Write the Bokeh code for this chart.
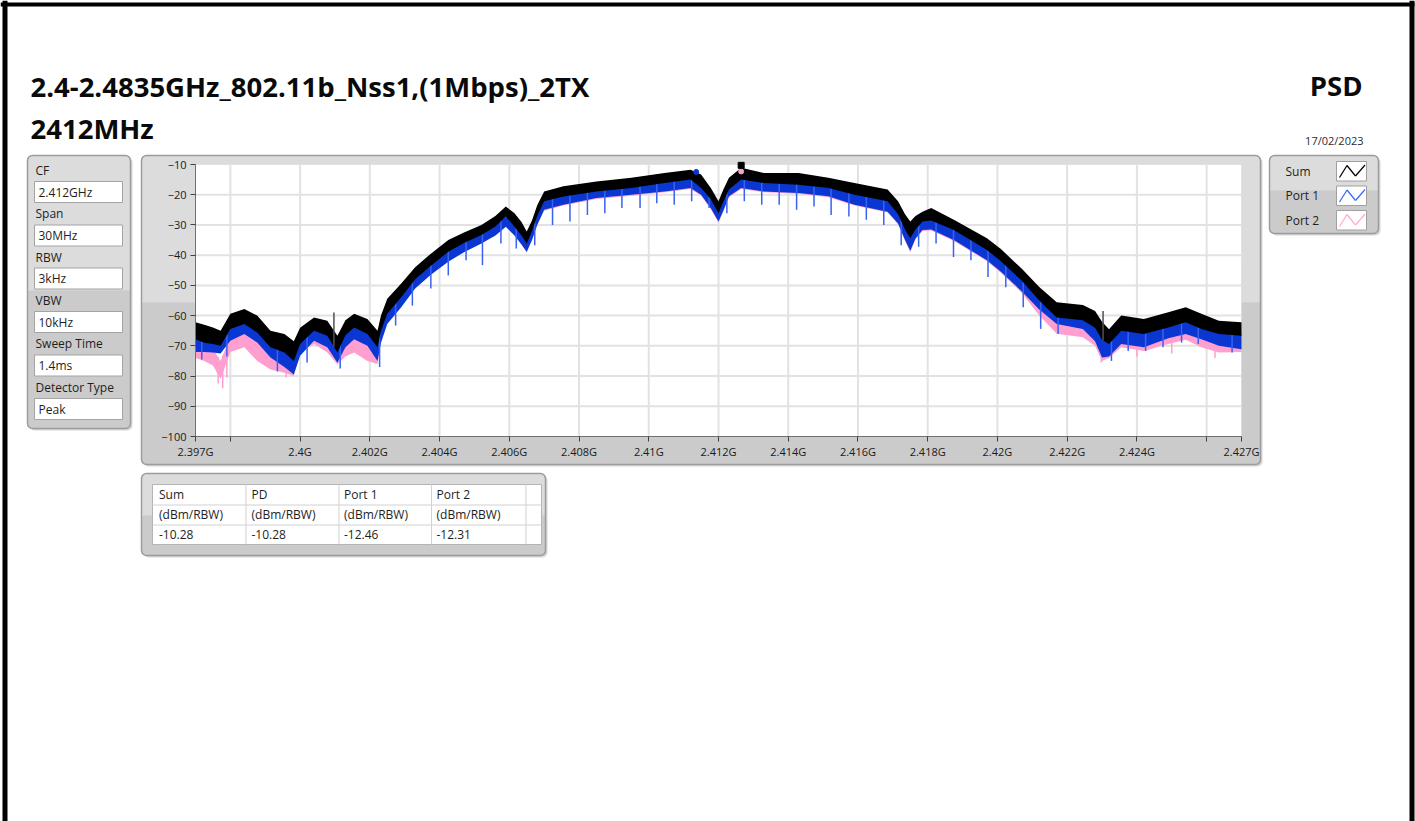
import numpy as np
from bokeh.plotting import figure
from bokeh.models import Range1d, FixedTicker, BoxAnnotation, Label, Arrow, LinearAxis
from bokeh.embed import file_html
from bokeh.resources import INLINE

# ---------------- data ----------------
freq_ghz = [2.39700, 2.39725, 2.39750, 2.39772, 2.39800, 2.39840, 2.39877, 2.39915, 2.39955, 2.39982,
            2.40000, 2.40040, 2.40078, 2.40107, 2.40130, 2.40155, 2.40193, 2.40222, 2.40232, 2.40250,
            2.40290, 2.40330, 2.40375, 2.40425, 2.40470, 2.40520, 2.40560, 2.40590, 2.40615, 2.40635,
            2.40650, 2.40665, 2.40680, 2.40700, 2.40755, 2.40850, 2.40950, 2.41045, 2.41120, 2.41150,
            2.41178, 2.41200, 2.41215, 2.41230, 2.41265, 2.41330, 2.41430, 2.41515, 2.41590, 2.41685,
            2.41715, 2.41735, 2.41750, 2.41765, 2.41785, 2.41810, 2.41875, 2.41970, 2.42010, 2.42070,
            2.42120, 2.42170, 2.42245, 2.42280, 2.42300, 2.42320, 2.42355, 2.42420, 2.42490, 2.42540,
            2.42585, 2.42635, 2.42700]
sum_top = [-62.2, -63.0, -63.9, -65.0, -59.4, -57.8, -60.0, -65.0, -66.1, -68.5,
           -64.0, -60.6, -61.7, -66.7, -61.5, -59.4, -61.1, -65.0, -60.0, -54.4,
           -49.4, -44.0, -39.5, -35.0, -32.5, -30.0, -27.0, -23.9, -26.1, -29.0,
           -32.2, -28.5, -23.5, -18.9, -17.2, -15.6, -14.4, -12.8, -11.7, -13.3,
           -17.8, -22.2, -18.0, -14.4, -11.1, -12.8, -12.8, -14.4, -16.1, -18.3,
           -22.2, -26.5, -28.9, -27.0, -25.6, -24.4, -28.3, -34.4, -38.0, -44.5,
           -50.5, -55.6, -56.5, -58.5, -62.0, -64.5, -60.0, -61.1, -58.9, -57.2,
           -59.4, -61.7, -62.2]
sum_bottom = [-67.8, -69.0, -69.4, -70.0, -64.4, -62.8, -65.6, -70.5, -72.2, -75.0,
              -69.4, -65.0, -66.7, -72.2, -66.5, -63.9, -66.1, -70.5, -65.0, -59.4,
              -53.9, -48.0, -43.5, -38.9, -36.0, -33.3, -30.5, -27.2, -30.6, -33.5,
              -36.1, -32.0, -27.0, -22.2, -20.6, -18.9, -17.8, -16.1, -15.0, -17.8,
              -21.5, -26.1, -22.0, -18.3, -15.0, -16.1, -16.7, -17.8, -20.0, -22.2,
              -26.5, -31.5, -34.4, -31.5, -28.9, -28.5, -31.7, -38.3, -42.0, -48.5,
              -55.0, -60.6, -61.5, -64.0, -68.0, -69.4, -65.0, -66.1, -63.9, -62.2,
              -64.4, -66.1, -66.7]
port1_top = [-66.7, -67.0, -68.0, -68.5, -63.9, -62.2, -65.0, -70.0, -71.7, -74.0,
             -68.3, -63.9, -66.1, -71.1, -66.0, -63.3, -65.6, -68.3, -64.0, -58.3,
             -53.3, -47.5, -43.0, -38.3, -35.5, -32.8, -30.0, -27.2, -29.5, -32.5,
             -35.0, -31.5, -26.5, -21.7, -20.0, -18.3, -17.2, -15.6, -14.5, -16.5,
             -20.5, -25.0, -21.0, -17.2, -14.4, -15.6, -16.1, -17.5, -19.4, -21.7,
             -25.5, -30.0, -33.0, -30.5, -28.3, -27.8, -31.1, -37.8, -41.5, -48.0,
             -54.0, -59.4, -60.6, -63.0, -67.2, -68.5, -63.9, -65.6, -63.0, -61.7,
             -63.9, -65.6, -66.2]
port1_bottom = [-72.0, -72.0, -72.2, -72.5, -68.3, -66.1, -68.9, -73.9, -77.0, -79.5,
                -73.3, -68.3, -70.5, -75.6, -70.5, -67.8, -70.0, -75.0, -69.0, -62.8,
                -57.2, -51.0, -46.5, -42.2, -39.0, -36.1, -33.5, -30.6, -33.5, -36.5,
                -38.9, -35.0, -30.0, -25.0, -23.3, -21.1, -20.0, -18.9, -17.8, -20.0,
                -24.5, -28.9, -25.0, -20.5, -17.8, -18.9, -19.4, -20.5, -23.3, -25.6,
                -29.5, -35.0, -38.5, -34.5, -31.7, -31.5, -35.0, -41.7, -45.5, -52.0,
                -58.0, -62.8, -64.4, -68.5, -73.9, -73.5, -69.4, -70.5, -67.5, -66.1,
                -67.8, -70.0, -71.1]
port2_top = [-70.0, -70.5, -71.0, -75.0, -66.7, -65.0, -68.3, -72.8, -73.9, -75.6,
             -67.2, -65.0, -67.8, -72.2, -68.0, -66.1, -69.4, -70.5, -63.0, -56.7,
             -52.5, -47.0, -42.5, -38.0, -35.0, -32.5, -30.0, -27.2, -29.5, -32.5,
             -35.0, -31.5, -26.5, -22.0, -20.3, -18.6, -17.5, -15.9, -14.8, -16.8,
             -20.8, -25.0, -21.3, -17.5, -14.7, -15.9, -16.4, -17.8, -19.7, -22.0,
             -25.8, -30.3, -33.5, -30.8, -28.6, -28.1, -31.4, -38.1, -41.8, -48.5,
             -55.5, -61.5, -62.8, -65.0, -68.0, -69.0, -65.0, -67.8, -65.0, -63.5,
             -66.1, -67.8, -68.0]
port2_bottom = [-74.0, -75.0, -76.5, -81.0, -72.0, -70.5, -75.0, -77.8, -78.9, -80.0,
                -72.0, -69.4, -72.2, -76.1, -73.5, -72.2, -75.0, -76.0, -68.0, -61.7,
                -56.5, -50.5, -46.0, -41.5, -38.5, -35.8, -33.5, -30.6, -33.5, -36.5,
                -39.2, -35.0, -30.0, -25.3, -23.6, -21.4, -20.3, -19.2, -18.1, -20.3,
                -24.8, -29.2, -25.3, -20.8, -18.1, -19.2, -19.7, -20.8, -23.6, -25.9,
                -29.8, -35.3, -39.0, -34.8, -32.0, -31.8, -35.3, -42.0, -45.8, -52.5,
                -60.0, -66.0, -67.2, -70.0, -75.0, -74.0, -70.5, -71.7, -69.4, -68.0,
                -70.5, -72.2, -72.0]

# downward spikes of Port 1 (frequency, lowest level)
port1_spike_f = [2.39718, 2.39790, 2.39935, 2.40020, 2.40115, 2.40228, 2.40274, 2.40322, 2.40375, 2.40425,
                 2.40476, 2.40523, 2.40576, 2.40620, 2.40673, 2.40724, 2.40774, 2.40824, 2.40874, 2.40923,
                 2.40975, 2.41023, 2.41073, 2.41123, 2.41173, 2.41224, 2.41274, 2.41324, 2.41374, 2.41424,
                 2.41474, 2.41523, 2.41574, 2.41624, 2.41674, 2.41724, 2.41774, 2.41824, 2.41874, 2.41924,
                 2.41973, 2.42024, 2.42074, 2.42124, 2.42174, 2.42327, 2.42375, 2.42425, 2.42475, 2.42528,
                 2.42576, 2.42673]
port1_spike_db = [-74.5, -73.5, -78.5, -75.5, -77.5, -77.0, -63.3, -56.7, -51.0, -46.7,
                  -41.7, -43.3, -36.1, -37.8, -36.7, -30.0, -28.9, -26.7, -26.1, -24.4,
                  -24.4, -22.8, -23.3, -22.2, -24.4, -26.1, -22.2, -23.3, -23.3, -25.0,
                  -23.9, -26.7, -27.2, -28.3, -30.0, -36.7, -37.2, -36.1, -40.6, -41.7,
                  -47.2, -50.6, -57.2, -64.4, -66.1, -75.0, -71.7, -71.7, -70.5, -68.9,
                  -69.4, -72.2]
port2_spike_f = [2.39765, 2.39778, 2.39790, 2.39960, 2.42298, 2.42400, 2.42500, 2.42624]
port2_spike_db = [-82.5, -84.0, -80.5, -80.5, -75.5, -73.5, -72.5, -74.0]
sum_spike_f = [2.40097, 2.42303]
sum_spike_db = [-59.0, -58.5]

# peak markers
peak_names = ["Sum", "Port 1", "Port 2"]
peak_f = [2.41265, 2.41136, 2.41265]
peak_db = [-10.28, -12.46, -12.31]

# axis ticks
xtick_values = [2.397, 2.398, 2.400, 2.402, 2.404, 2.406, 2.408, 2.410, 2.412, 2.414,
                2.416, 2.418, 2.420, 2.422, 2.424, 2.426, 2.427]
xtick_labels = ["2.397G", "", "2.4G", "2.402G", "2.404G", "2.406G", "2.408G", "2.41G", "2.412G", "2.414G",
                "2.416G", "2.418G", "2.42G", "2.422G", "2.424G", "", "2.427G"]
ytick_values = [-10, -20, -30, -40, -50, -60, -70, -80, -90, -100]

# texts
title_line1 = "2.4-2.4835GHz_802.11b_Nss1,(1Mbps)_2TX"
title_line2 = "2412MHz"
right_title = "PSD"
date_text = "17/02/2023"
settings_names = ["CF", "Span", "RBW", "VBW", "Sweep Time", "Detector Type"]
settings_values = ["2.412GHz", "30MHz", "3kHz", "10kHz", "1.4ms", "Peak"]
legend_names = ["Sum", "Port 1", "Port 2"]
table_headers = ["Sum", "PD", "Port 1", "Port 2"]
table_units = ["(dBm/RBW)", "(dBm/RBW)", "(dBm/RBW)", "(dBm/RBW)"]
table_values = ["-10.28", "-10.28", "-12.46", "-12.31"]

# ---------------- styles / layout ----------------
W, H = 1415, 821
FL, FR, FT, FB = 195, 1241, 164, 436          # plot area on the page (px)
FONT = "Open Sans"
LIGHT, DARK, EDGE = "#dcdcdc", "#cbcbcb", "#9c9c9c"
C_SUM, C_P1, C_P2 = "#000000", "#0a36d2", "#ff9fcf"
C_P1_SPIKE = "#3a62f0"
LEG_COLORS = ["#000000", "#3a66ff", "#ffaad2"]

# data ranges stretched so that the x / y tick extremes land on the plot area
x0, x1 = xtick_values[0], xtick_values[-1]
y0, y1 = ytick_values[-1], ytick_values[0]
gx = (x1 - x0) / (FR - FL)
gy = (y1 - y0) / (FB - FT)
x_range = Range1d(x0 - FL * gx, x1 + (W - FR) * gx)
y_range = Range1d(y0 - (H - FB) * gy, y1 + FT * gy)

p = figure(width=W, height=H, x_range=x_range, y_range=y_range,
           x_axis_location=None, y_axis_location=None,
           output_backend="svg", toolbar_location=None,
           min_border=0, min_border_left=0, min_border_right=0, min_border_top=0, min_border_bottom=0,
           background_fill_color="white", border_fill_color="white", outline_line_color=None)
p.title.visible = False
p.xgrid.visible = False
p.ygrid.visible = False
p.extra_x_ranges = {"px": Range1d(0, W)}
p.extra_y_ranges = {"py": Range1d(H, 0)}
PX = dict(x_range_name="px", y_range_name="py")


def rect(l, t, r, b, fill=None, line=None, lw=1, radius=0, alpha=1.0, level="underlay"):
    p.add_layout(BoxAnnotation(left=l, right=r, top=t, bottom=b,
                               fill_color=fill, fill_alpha=alpha if fill else 0,
                               line_color=line, line_width=lw, line_alpha=1 if line else 0,
                               border_radius=radius, level=level, **PX))


def text(x, y, s, size="12px", bold=False, color="#1e1e1e", align="left", baseline="middle"):
    p.add_layout(Label(x=x, y=y, text=s, text_font=FONT, text_font_size=size,
                       text_font_style="bold" if bold else "normal", text_color=color,
                       text_align=align, text_baseline=baseline, level="overlay", **PX))


def seg(xa, ya, xb, yb, color, lw=1):
    p.add_layout(Arrow(end=None, x_start=xa, y_start=ya, x_end=xb, y_end=yb,
                       line_color=color, line_width=lw, level="overlay", **PX))


def panel(l, t, r, b, split):
    rect(l + 2, t + 2, r + 2, b + 2, fill="#bcbcbc", alpha=0.6, radius=5)
    rect(l, t, r, split, fill=LIGHT, radius=(5, 5, 0, 0))
    rect(l, split, r, b, fill=DARK, radius=(0, 0, 5, 5))
    rect(l, t, r, b, line=EDGE, lw=1.5, radius=5)


# chart panel and its white plot area
panel(141, 155, 1260, 464, 302)
p.add_layout(BoxAnnotation(left=x0, right=x1, top=y1, bottom=y0, fill_color="white", fill_alpha=1,
                           line_color="#c4c4c4", line_width=1, level="underlay"))

# settings panel
panel(27, 155, 130, 428, 290)
lab_y = [170, 213, 256.5, 300, 343, 387]
box_t = [181, 224.5, 267.5, 311, 354.5, 398]
for name, val, ly, bt in zip(settings_names, settings_values, lab_y, box_t):
    text(35, ly, name)
    rect(34, bt, 122, bt + 21, fill="white", line="#a4a4a4")
    text(38, bt + 10.5, val)

# legend panel
panel(1269, 155, 1378, 233, 190)
sw_t = [161, 185.5, 210]
for name, col, st in zip(legend_names, LEG_COLORS, sw_t):
    text(1285, st + 9.5, name)
    rect(1336, st, 1366, st + 19.5, fill="white", line="#a0a0a0")
    zx = [1339, 1346.5, 1355, 1364.5]
    zy = [st + 16, st + 4, st + 14.5, st + 3.5]
    for i in range(3):
        seg(zx[i], zy[i], zx[i + 1], zy[i + 1], col, lw=1.2)

# results table panel
panel(141, 473, 545, 555, 515)
rect(152, 484, 541, 544, fill="white", line="#b4b4b4")
for yy in [504, 524]:
    rect(152, yy, 541, yy + 1, fill="#d2d2d2")
for xx in [245, 338, 430.5, 525]:
    rect(xx, 484, xx + 1, 544, fill="#d2d2d2")
col_x = [158.5, 251, 343.5, 436]
for cx, h, u, v in zip(col_x, table_headers, table_units, table_values):
    text(cx, 493.5, h)
    text(cx, 514, u)
    text(cx, 533.5, v)

# titles
text(30, 86, title_line1, size="27.5px", bold=True, color="#0a0a0a")
text(30, 128, title_line2, size="27.5px", bold=True, color="#0a0a0a")
text(1362, 84.5, right_title, size="27.5px", bold=True, color="#0a0a0a", align="right")
text(1363, 139.5, date_text, size="11px", color="#2a2a3a", align="right")

# page border
rect(2, 0, 7, H, fill="black", level="overlay")
rect(0, 2, 1414, 6, fill="black", level="overlay")
rect(1409, 0, 1414, H, fill="black", level="overlay")

# ---------------- axes (drawn at the plot-area edges) ----------------
xaxis = LinearAxis(fixed_location=y0, bounds=(x0, x1), ticker=FixedTicker(ticks=xtick_values))
xaxis.major_label_overrides = {v: s for v, s in zip(xtick_values, xtick_labels)}
xaxis.major_label_standoff = 2
yaxis = LinearAxis(fixed_location=x0, bounds=(y0, y1), ticker=FixedTicker(ticks=ytick_values))
yaxis.major_label_standoff = 4
for ax in (xaxis, yaxis):
    ax.axis_line_color = "#707070"
    ax.major_tick_line_color = "#404040"
    ax.major_tick_out = 5
    ax.major_tick_in = 0
    ax.minor_tick_line_color = None
    ax.major_label_text_font = FONT
    ax.major_label_text_font_size = "11px"
    ax.major_label_text_color = "#1a1a1a"
p.add_layout(xaxis, "below")
p.add_layout(yaxis, "left")

# grid lines inside the plot area
xg = xtick_values[1:-1]
yg = ytick_values[1:-1]
p.segment(x0=xg, y0=[y0] * len(xg), x1=xg, y1=[y1] * len(xg), line_color="#e2e2e2", line_width=2)
p.segment(x0=[x0] * len(yg), y0=yg, x1=[x1] * len(yg), y1=yg, line_color="#e2e2e2", line_width=2)

# ---------------- spectrum traces ----------------
f = np.array(freq_ghz)
p.varea(x=f, y1=port2_bottom, y2=port2_top, fill_color=C_P2)
p.segment(x0=port2_spike_f, y0=np.interp(port2_spike_f, f, port2_top),
          x1=port2_spike_f, y1=port2_spike_db, line_color=C_P2, line_width=1.5)
p.varea(x=f, y1=port1_bottom, y2=port1_top, fill_color=C_P1)
p.segment(x0=port1_spike_f, y0=np.interp(port1_spike_f, f, port1_top),
          x1=port1_spike_f, y1=port1_spike_db, line_color=C_P1_SPIKE, line_width=1.5)
p.varea(x=f, y1=sum_bottom, y2=sum_top, fill_color=C_SUM)
p.segment(x0=sum_spike_f, y0=np.interp(sum_spike_f, f, sum_bottom),
          x1=sum_spike_f, y1=sum_spike_db, line_color="#505050", line_width=1.5)
p.scatter(x=peak_f[2:], y=peak_db[2:], marker="circle", size=5, fill_color=C_P2, line_color=C_P2)
p.scatter(x=peak_f[1:2], y=peak_db[1:2], marker="circle", size=5, fill_color=C_P1, line_color=C_P1)
p.scatter(x=peak_f[:1], y=peak_db[:1], marker="square", size=6, fill_color=C_SUM, line_color=C_SUM)

open("out.html", "w").write(file_html(p, INLINE))
